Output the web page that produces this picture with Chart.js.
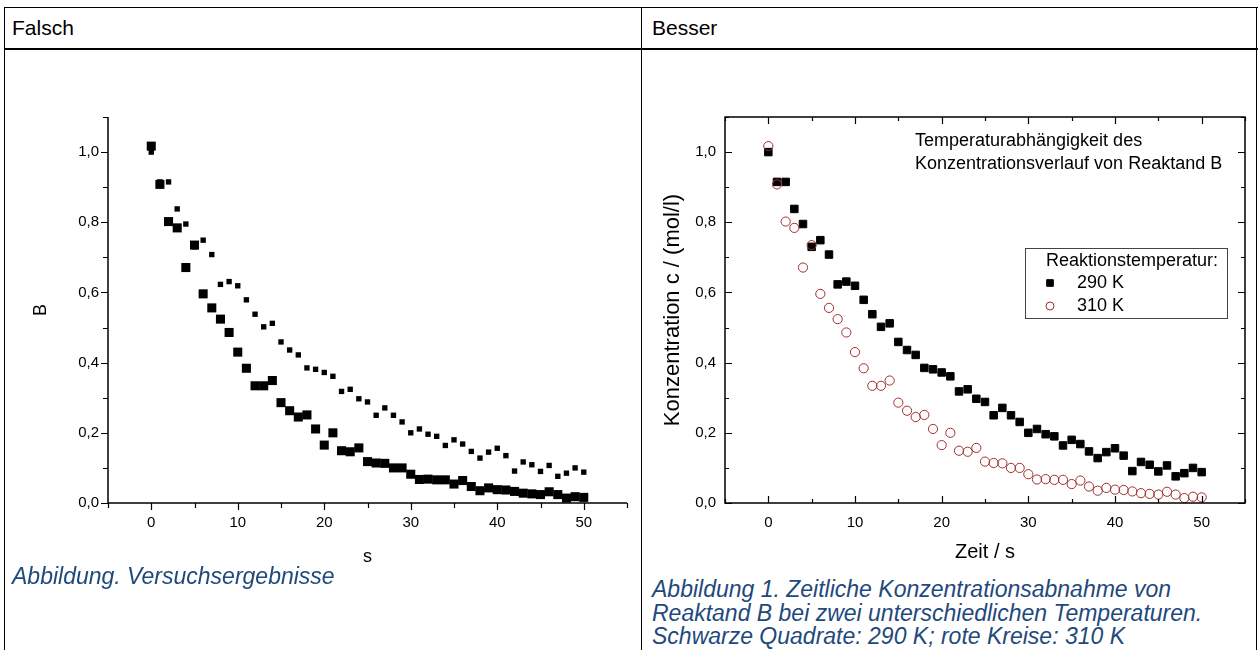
<!DOCTYPE html>
<html>
<head>
<meta charset="utf-8">
<script src="https://cdn.jsdelivr.net/npm/chart.js@4.4.1/dist/chart.umd.min.js"></script>
<style>
  body { margin: 0; background: #fff; font-family: Arial, "Liberation Sans", sans-serif; }
  #page { position: relative; width: 1258px; height: 650px; overflow: hidden; }
  .ln { position: absolute; background: #000; }
  .head { position: absolute; top: 16px; font-size: 21px; color: #000; }
  .cap { position: absolute; font-style: italic; color: #1f497d; font-size: 23px; line-height: 23.5px; }
  canvas { position: absolute; }
</style>
</head>
<body>
<div id="page">
  <div class="ln" style="left:4px;top:7px;width:1254px;height:1px"></div>
  <div class="ln" style="left:4px;top:48px;width:1254px;height:2px"></div>
  <div class="ln" style="left:4px;top:7px;width:1px;height:643px"></div>
  <div class="ln" style="left:641px;top:7px;width:1px;height:643px"></div>
  <div class="ln" style="left:1256px;top:7px;width:1px;height:643px"></div>
  <div class="head" style="left:12px">Falsch</div>
  <div class="head" style="left:652px">Besser</div>
  <canvas id="left" width="634" height="520" style="left:6px;top:50px"></canvas>
  <canvas id="right" width="613" height="520" style="left:643px;top:50px"></canvas>
  <div class="cap" style="left:12px;top:565px">Abbildung. Versuchsergebnisse</div>
  <div class="cap" style="left:652px;top:578px">Abbildung 1. Zeitliche Konzentrationsabnahme von<br>Reaktand B bei zwei unterschiedlichen Temperaturen.<br>Schwarze Quadrate: 290 K; rote Kreise: 310 K</div>
</div>
<script>
const times = [0,1,2,3,4,5,6,7,8,9,10,11,12,13,14,15,16,17,18,19,20,21,22,23,24,25,
  26,27,28,29,30,31,32,33,34,35,36,37,38,39,40,41,42,43,44,45,46,47,48,49,50];
const c290 = [1.00,0.915,0.915,0.838,0.795,0.73,0.749,0.708,0.623,0.631,0.619,0.579,0.538,
  0.502,0.512,0.459,0.436,0.422,0.385,0.381,0.372,0.361,0.318,0.324,0.297,0.288,0.250,
  0.271,0.250,0.231,0.200,0.211,0.196,0.190,0.164,0.180,0.168,0.147,0.128,0.145,0.156,
  0.135,0.091,0.117,0.109,0.090,0.107,0.076,0.085,0.100,0.088];
const c310 = [1.017,0.908,0.802,0.784,0.671,0.735,0.596,0.556,0.524,0.486,0.430,0.384,0.334,
  0.334,0.349,0.286,0.263,0.245,0.251,0.211,0.165,0.200,0.149,0.146,0.157,0.118,0.114,
  0.113,0.100,0.100,0.082,0.067,0.068,0.066,0.066,0.054,0.064,0.047,0.035,0.043,0.038,
  0.037,0.033,0.028,0.026,0.024,0.032,0.024,0.014,0.018,0.016];
const seriesNames = ['290 K', '310 K'];
const xTickLabels = ['0', '10', '20', '30', '40', '50'];
const yTickLabels = ['0,0', '0,2', '0,4', '0,6', '0,8', '1,0'];
const legendTitle = 'Reaktionstemperatur:';
const noteLines = ['Temperaturabhängigkeit des', 'Konzentrationsverlauf von Reaktand B'];

Chart.defaults.color = '#000';
Chart.defaults.font.family = 'Arial, "Liberation Sans", sans-serif';

const pts = arr => times.map((t, i) => ({x: t, y: arr[i]}));

// label only every 10 s and every 0.2
function xLabel(v) {
  const s = String(Math.round(v));
  return xTickLabels.includes(s) ? s : '';
}
function yLabel(v) {
  const s = (Math.round(v * 10) / 10).toFixed(1).replace('.', ',');
  return yTickLabels.includes(s) ? s : '';
}

// axis lines and tick marks like Origin
const axes = {
  id: 'axes',
  afterDraw(chart, args, o) {
    const {ctx, chartArea: a, scales: {x, y}} = chart;
    ctx.save();
    ctx.strokeStyle = '#000';
    ctx.lineWidth = 1.5;
    ctx.beginPath();
    if (o.box) {
      ctx.rect(a.left, a.top, a.right - a.left, a.bottom - a.top);
    } else {
      ctx.moveTo(a.left, a.top);
      ctx.lineTo(a.left, a.bottom);
      ctx.lineTo(a.right, a.bottom);
    }
    ctx.stroke();
    const d = o.inward ? -1 : 1;
    ctx.lineWidth = 1.2;
    ctx.beginPath();
    x.ticks.forEach(t => {
      const px = Math.round(x.getPixelForValue(t.value)) + 0.5;
      const len = Math.round(t.value) % 10 === 0 ? o.major : o.minor;
      ctx.moveTo(px, a.bottom);
      ctx.lineTo(px, a.bottom + d * len);
      if (o.box) {
        ctx.moveTo(px, a.top);
        ctx.lineTo(px, a.top - d * len);
      }
    });
    y.ticks.forEach(t => {
      const py = Math.round(y.getPixelForValue(t.value)) + 0.5;
      const len = Math.round(t.value * 10) % 2 === 0 ? o.major : o.minor;
      ctx.moveTo(a.left, py);
      ctx.lineTo(a.left - d * len, py);
      if (o.box) {
        ctx.moveTo(a.right, py);
        ctx.lineTo(a.right + d * len, py);
      }
    });
    ctx.stroke();
    ctx.restore();
  }
};

// text note + legend box inside the right plot
const extras = {
  id: 'extras',
  afterDraw(chart, args, o) {
    const {ctx} = chart;
    ctx.save();
    ctx.fillStyle = '#000';
    ctx.font = '18px Arial, "Liberation Sans", sans-serif';
    ctx.textBaseline = 'middle';
    ctx.textAlign = 'left';
    noteLines.forEach((s, i) => ctx.fillText(s, o.noteX, o.noteY + i * 23));

    const L = o.legend;
    ctx.strokeStyle = '#444';
    ctx.lineWidth = 1;
    ctx.strokeRect(L.x + 0.5, L.y + 0.5, L.w, L.h);
    ctx.fillText(legendTitle, L.x + 21, L.y + 13);
    chart.data.datasets.forEach((ds, i) => {
      const yy = L.y + 35 + i * 23;
      ctx.strokeStyle = ds.borderColor;
      ctx.fillStyle = ds.backgroundColor;
      ctx.lineWidth = ds.borderWidth;
      Chart.helpers.drawPoint(ctx, {
        pointStyle: ds.pointStyle, radius: ds.pointRadius - 0.6,
        borderWidth: ds.borderWidth
      }, L.x + 25, yy);
      ctx.fillStyle = '#000';
      ctx.fillText(ds.label, L.x + 52, yy);
    });
    ctx.restore();
  }
};

function scales(yw, tickSize, titleX, titleY, xTitleSize, yTitleSize, xPadBottom, yPadTop) {
  return {
    x: {
      type: 'linear', min: -5, max: 55,
      grid: {display: false, drawTicks: false}, border: {display: false},
      ticks: {stepSize: 5, autoSkip: false, maxRotation: 0, padding: 11,
        font: {size: tickSize}, callback: xLabel},
      title: {display: true, text: titleX, font: {size: xTitleSize}, padding: {top: 0, bottom: xPadBottom}},
      afterFit: s => { s.height = 67; }
    },
    y: {
      min: 0, max: 1.1,
      grid: {display: false, drawTicks: false}, border: {display: false},
      ticks: {stepSize: 0.1, autoSkip: false, padding: 9, font: {size: tickSize}, callback: yLabel},
      title: {display: true, text: titleY, font: {size: yTitleSize}, padding: {top: yPadTop, bottom: 0}},
      afterFit: s => { s.width = yw; }
    }
  };
}

const common = {
  responsive: false,
  animation: false,
  events: [],
  plugins: {legend: {display: false}, tooltip: {enabled: false}}
};

new Chart(document.getElementById('left'), {
  type: 'scatter',
  data: {
    datasets: [
      {label: seriesNames[0], data: pts(c290), pointStyle: 'rect', pointRadius: 3.8,
        backgroundColor: '#000', borderColor: '#000', borderWidth: 0},
      {label: seriesNames[1], data: pts(c310), pointStyle: 'rect', pointRadius: 6.4,
        backgroundColor: '#000', borderColor: '#000', borderWidth: 0}
    ]
  },
  options: {
    ...common,
    layout: {padding: {top: 67, right: 13, left: 0, bottom: 0}},
    scales: scales(102, 15, 's', 'B', 18, 18, 2, 24),
    plugins: {...common.plugins, axes: {box: false, inward: false, major: 7, minor: 5}}
  },
  plugins: [axes]
});

new Chart(document.getElementById('right'), {
  type: 'scatter',
  data: {
    datasets: [
      {label: seriesNames[0], data: pts(c290), pointStyle: 'rect', pointRadius: 5.3, order: 2,
        backgroundColor: '#000', borderColor: '#000', borderWidth: 1},
      {label: seriesNames[1], data: pts(c310), pointStyle: 'circle', pointRadius: 4.6, order: 1,
        backgroundColor: 'rgba(255,255,255,0)', borderColor: '#a0302c', borderWidth: 1}
    ]
  },
  options: {
    ...common,
    layout: {padding: {top: 67, right: 6, left: 0, bottom: 0}},
    scales: scales(82, 15, 'Zeit / s', 'Konzentration c / (mol/l)', 20, 22, 6, 17),
    plugins: {
      ...common.plugins,
      axes: {box: true, inward: true, major: 7, minor: 4},
      extras: {noteX: 272, noteY: 91, legend: {x: 382, y: 198, w: 202, h: 70}}
    }
  },
  plugins: [axes, extras]
});
</script>
</body>
</html>
